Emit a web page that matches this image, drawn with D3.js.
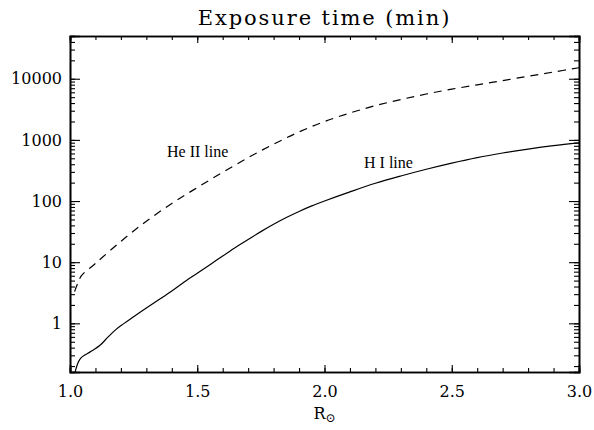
<!DOCTYPE html>
<html>
<head>
<meta charset="utf-8">
<script src="https://d3js.org/d3.v7.min.js"></script>
<style>
body { margin: 0; background: #fff; }
svg { display: block; }
.tick-label { font-family: 'DejaVu Serif', serif; font-size: 16px; fill: #000; }
.title { font-family: 'DejaVu Serif', serif; font-size: 21px; letter-spacing: 1.9px; }
.line-label { font-family: 'Liberation Serif', serif; font-size: 16px; }
</style>
</head>
<body>
<svg></svg>
<script>
// H I line (solid)
const hiR = [1.018, 1.03, 1.04, 1.05, 1.07, 1.09, 1.118, 1.15, 1.18, 1.21, 1.25, 1.30, 1.35, 1.40, 1.45, 1.50, 1.55, 1.60, 1.65, 1.70, 1.75, 1.80, 1.85, 1.90, 1.95, 2.00, 2.10, 2.20, 2.30, 2.40, 2.50, 2.60, 2.70, 2.80, 2.90, 3.00];
const hiT = [0.148, 0.219, 0.263, 0.288, 0.324, 0.363, 0.437, 0.60, 0.79, 0.98, 1.28, 1.78, 2.45, 3.39, 4.79, 6.61, 9.12, 12.6, 17.4, 23.4, 31.6, 41.7, 53.7, 67.6, 83.2, 100, 141, 195, 257, 331, 417, 513, 610, 708, 804, 891];
// He II line (dashed)
const heR = [1.018, 1.03, 1.045, 1.10, 1.20, 1.30, 1.40, 1.50, 1.60, 1.70, 1.80, 1.90, 2.00, 2.10, 2.20, 2.30, 2.40, 2.50, 2.60, 2.70, 2.80, 2.90, 3.00];
const heT = [3.3, 4.47, 6.03, 9.55, 21.9, 46.8, 91.2, 166, 295, 513, 851, 1349, 1995, 2754, 3631, 4571, 5623, 6761, 7943, 9333, 10965, 12882, 15136];

const xTicks = [1.0, 1.5, 2.0, 2.5, 3.0];
const yTicks = [1, 10, 100, 1000, 10000];
const yTickLabels = ["1", "10", "100", "1000", "10000"];

const W = 594, H = 430;
const m = {left: 70, right: 15, top: 36, bottom: 58};

const svg = d3.select("svg").attr("width", W).attr("height", H);

const x = d3.scaleLinear().domain([1, 3]).range([m.left, W - m.right]);
const y = d3.scaleLog().domain([0.16, 50000]).range([H - m.bottom, m.top]);

svg.append("defs").append("clipPath").attr("id", "clip")
  .append("rect")
  .attr("x", m.left).attr("y", m.top)
  .attr("width", W - m.left - m.right).attr("height", H - m.top - m.bottom);

const plot = svg.append("g").attr("clip-path", "url(#clip)");

const line = d3.line().x(d => x(d[0])).y(d => y(d[1])).curve(d3.curveCatmullRom.alpha(0.5));

plot.append("path")
  .datum(hiR.map((r, i) => [r, hiT[i]]))
  .attr("d", line)
  .attr("fill", "none").attr("stroke", "#000").attr("stroke-width", 1.2);

plot.append("path")
  .datum(heR.map((r, i) => [r, heT[i]]))
  .attr("d", line)
  .attr("fill", "none").attr("stroke", "#000").attr("stroke-width", 1.2)
  .attr("stroke-dasharray", "8,6");

// minor ticks
const xMinor = d3.range(1.0, 3.001, 0.1);
const yMinor = [];
[0.1, 1, 10, 100, 1000, 10000].forEach(d => {
  for (let k = 1; k < 10; k++) {
    const v = d * k;
    if (v >= 0.16 && v <= 50000) yMinor.push(v);
  }
});

// axes on all four sides, IDL style
const axBottom = d3.axisBottom(x).tickValues(xTicks).tickFormat(d3.format(".1f")).tickSize(-7).tickPadding(14);
const axBottomMinor = d3.axisBottom(x).tickValues(xMinor).tickFormat("").tickSize(-4);
const axTop = d3.axisTop(x).tickValues(xTicks).tickFormat("").tickSize(-7);
const axTopMinor = d3.axisTop(x).tickValues(xMinor).tickFormat("").tickSize(-4);
const axLeft = d3.axisLeft(y).tickValues(yTicks).tickFormat((d, i) => yTickLabels[i]).tickSize(-10).tickPadding(8);
const axLeftMinor = d3.axisLeft(y).tickValues(yMinor).tickFormat("").tickSize(-5);
const axRight = d3.axisRight(y).tickValues(yTicks).tickFormat("").tickSize(-10);
const axRightMinor = d3.axisRight(y).tickValues(yMinor).tickFormat("").tickSize(-5);

const axes = [
  [axBottomMinor, `translate(0,${H - m.bottom})`],
  [axBottom, `translate(0,${H - m.bottom})`],
  [axTopMinor, `translate(0,${m.top})`],
  [axTop, `translate(0,${m.top})`],
  [axLeftMinor, `translate(${m.left},0)`],
  [axLeft, `translate(${m.left},0)`],
  [axRightMinor, `translate(${W - m.right},0)`],
  [axRight, `translate(${W - m.right},0)`]
];
axes.forEach(([a, t]) => {
  const g = svg.append("g").attr("transform", t).call(a);
  g.attr("font-family", null).attr("font-size", null);
  g.select(".domain").attr("stroke", "#000").attr("stroke-width", 1.6);
  g.selectAll(".tick line").attr("stroke", "#000").attr("stroke-width", 1.1);
  g.selectAll(".tick text").attr("class", "tick-label");
});

svg.append("text").attr("class", "title")
  .attr("x", (m.left + W - m.right) / 2).attr("y", 25)
  .attr("text-anchor", "middle").text("Exposure time (min)");

const xl = svg.append("text").attr("class", "tick-label")
  .attr("x", x(2.0)).attr("y", 419).attr("text-anchor", "middle");
xl.append("tspan").text("R");
xl.append("tspan").attr("font-size", "12px").attr("dy", 3).text("\u2299");

svg.append("text").attr("class", "line-label").attr("x", 167).attr("y", 157).text("He II line");
svg.append("text").attr("class", "line-label").attr("x", 364).attr("y", 168).text("H I line");
</script>
</body>
</html>
